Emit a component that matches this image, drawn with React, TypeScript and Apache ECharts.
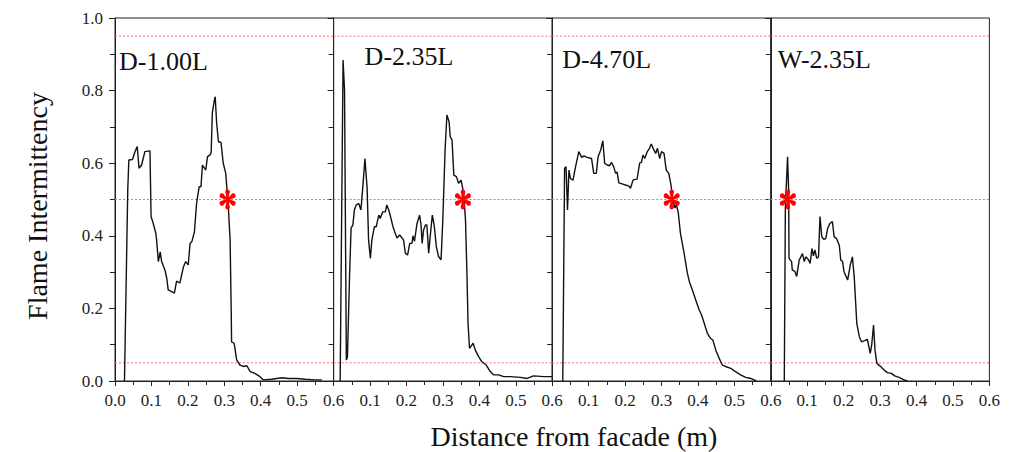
import React, { useEffect, useRef } from "react";
import * as echarts from "echarts";

const panelNames = ["D-1.00L", "D-2.35L", "D-4.70L", "W-2.35L"];

const d100: number[][] = [
  [0.026, 0], [0.035, 0.526], [0.038, 0.609], [0.048, 0.61], [0.055, 0.632], [0.061, 0.646], [0.066, 0.586],
  [0.073, 0.595], [0.082, 0.632], [0.096, 0.634], [0.099, 0.453], [0.105, 0.434], [0.112, 0.407], [0.114, 0.39],
  [0.119, 0.329], [0.124, 0.356], [0.128, 0.329], [0.137, 0.306], [0.142, 0.283], [0.146, 0.251], [0.156, 0.246],
  [0.163, 0.242], [0.169, 0.275], [0.178, 0.27], [0.188, 0.315], [0.194, 0.329], [0.201, 0.32], [0.206, 0.379],
  [0.211, 0.384], [0.218, 0.411], [0.224, 0.49], [0.231, 0.535], [0.236, 0.535], [0.24, 0.595], [0.249, 0.581],
  [0.254, 0.618], [0.261, 0.623], [0.264, 0.63], [0.267, 0.737], [0.272, 0.77], [0.275, 0.783], [0.279, 0.71],
  [0.284, 0.659], [0.291, 0.657], [0.297, 0.6], [0.304, 0.572], [0.311, 0.48], [0.316, 0.388], [0.319, 0.19],
  [0.32, 0.108], [0.327, 0.104], [0.334, 0.058], [0.343, 0.044], [0.352, 0.04], [0.362, 0.042], [0.371, 0.026],
  [0.384, 0.021], [0.398, 0.012], [0.407, 0.003], [0.43, 0.005], [0.458, 0.009], [0.476, 0.007], [0.499, 0.007],
  [0.522, 0.005], [0.549, 0.003], [0.568, 0.003],
];

const d235: number[][] = [
  [0.018, 0], [0.026, 0.884], [0.03, 0.8], [0.035, 0.058], [0.038, 0.066], [0.044, 0.297], [0.048, 0.421],
  [0.053, 0.43], [0.057, 0.471], [0.062, 0.485], [0.069, 0.489], [0.075, 0.471], [0.081, 0.545], [0.086, 0.613],
  [0.092, 0.531], [0.096, 0.388], [0.101, 0.338], [0.105, 0.388], [0.112, 0.425], [0.117, 0.425], [0.124, 0.457],
  [0.128, 0.448], [0.135, 0.466], [0.142, 0.466], [0.146, 0.485], [0.152, 0.469], [0.157, 0.45], [0.163, 0.425],
  [0.169, 0.407], [0.174, 0.394], [0.181, 0.402], [0.188, 0.394], [0.192, 0.388], [0.197, 0.352], [0.203, 0.347],
  [0.209, 0.379], [0.215, 0.379], [0.218, 0.4], [0.222, 0.385], [0.229, 0.434], [0.236, 0.457], [0.24, 0.43],
  [0.243, 0.379], [0.247, 0.416], [0.252, 0.43], [0.256, 0.43], [0.261, 0.352], [0.265, 0.397], [0.271, 0.457],
  [0.276, 0.43], [0.282, 0.37], [0.288, 0.343], [0.295, 0.334], [0.3, 0.45], [0.306, 0.636], [0.311, 0.733],
  [0.317, 0.714], [0.32, 0.673], [0.325, 0.664], [0.33, 0.567], [0.337, 0.563], [0.343, 0.545], [0.35, 0.553],
  [0.352, 0.543], [0.357, 0.517], [0.362, 0.444], [0.366, 0.297], [0.369, 0.159], [0.373, 0.09], [0.383, 0.104],
  [0.389, 0.085], [0.398, 0.067], [0.407, 0.053], [0.419, 0.044], [0.43, 0.026], [0.439, 0.017], [0.453, 0.017],
  [0.467, 0.012], [0.485, 0.012], [0.513, 0.01], [0.531, 0.007], [0.549, 0.014], [0.577, 0.012], [0.6, 0.012],
];

const d470: number[][] = [
  [0.029, 0], [0.034, 0.586], [0.038, 0.59], [0.042, 0.471], [0.046, 0.581], [0.05, 0.558], [0.057, 0.553],
  [0.064, 0.59], [0.073, 0.632], [0.081, 0.616], [0.087, 0.62], [0.096, 0.616], [0.108, 0.613], [0.114, 0.572],
  [0.121, 0.572], [0.126, 0.618], [0.133, 0.636], [0.139, 0.662], [0.144, 0.6], [0.151, 0.595], [0.157, 0.593],
  [0.163, 0.602], [0.169, 0.59], [0.174, 0.572], [0.178, 0.576], [0.183, 0.546], [0.192, 0.543], [0.201, 0.54],
  [0.211, 0.537], [0.215, 0.531], [0.222, 0.554], [0.233, 0.556], [0.24, 0.6], [0.245, 0.602], [0.249, 0.622],
  [0.254, 0.613], [0.261, 0.632], [0.267, 0.641], [0.272, 0.653], [0.277, 0.641], [0.284, 0.627], [0.289, 0.641],
  [0.295, 0.613], [0.3, 0.632], [0.307, 0.627], [0.313, 0.581], [0.32, 0.572], [0.326, 0.54], [0.331, 0.5],
  [0.337, 0.477], [0.341, 0.486], [0.346, 0.464], [0.352, 0.407], [0.362, 0.352], [0.371, 0.297], [0.377, 0.272],
  [0.384, 0.253], [0.394, 0.223], [0.403, 0.197], [0.41, 0.182], [0.416, 0.163], [0.426, 0.131], [0.435, 0.117],
  [0.441, 0.113], [0.449, 0.085], [0.458, 0.063], [0.467, 0.044], [0.476, 0.04], [0.49, 0.035], [0.503, 0.026],
  [0.517, 0.017], [0.531, 0.01], [0.545, 0.007], [0.554, 0.003], [0.56, 0],
];

const w235: number[][] = [
  [0.037, 0], [0.04, 0.48], [0.046, 0.618], [0.049, 0.526], [0.05, 0.338], [0.057, 0.329], [0.059, 0.306],
  [0.066, 0.302], [0.071, 0.288], [0.078, 0.333], [0.087, 0.351], [0.092, 0.329], [0.096, 0.342], [0.103, 0.335],
  [0.108, 0.324], [0.113, 0.365], [0.117, 0.345], [0.121, 0.361], [0.126, 0.338], [0.131, 0.342], [0.135, 0.453],
  [0.14, 0.397], [0.146, 0.39], [0.151, 0.393], [0.156, 0.42], [0.162, 0.434], [0.169, 0.439], [0.174, 0.397],
  [0.18, 0.393], [0.188, 0.374], [0.192, 0.333], [0.197, 0.329], [0.201, 0.301], [0.211, 0.278], [0.218, 0.319],
  [0.224, 0.342], [0.229, 0.287], [0.236, 0.159], [0.243, 0.122], [0.249, 0.108], [0.258, 0.111], [0.265, 0.115],
  [0.273, 0.076], [0.277, 0.1], [0.282, 0.154], [0.286, 0.085], [0.291, 0.049], [0.3, 0.041], [0.311, 0.03],
  [0.32, 0.023], [0.331, 0.021], [0.34, 0.014], [0.352, 0.01], [0.366, 0.003], [0.375, 0],
];

const panelData = [d100, d235, d470, w235];
const asteriskX = [0.309, 0.355, 0.328, 0.047];
const asteriskY = [0.5, 0.5, 0.5, 0.5];
const refLevels = [0.95, 0.5, 0.05];

const xMin = 0, xMax = 0.6, xStep = 0.1;
const yMin = 0, yMax = 1.0, yStep = 0.2;

const yTitle = "Flame Intermittency";
const xTitle = "Distance from facade (m)";

function asteriskPath(): string {
  const L = 7.4, w0 = 0.7, w1 = 2.6;
  let d = "";
  [90, 30, -30, -90, 210, 150].forEach((deg) => {
    const a = (deg * Math.PI) / 180;
    const ux = Math.cos(a), uy = -Math.sin(a);
    const px = -uy, py = ux;
    const pts: number[][] = [[px * w0, py * w0]];
    const cx = ux * L, cy = uy * L;
    for (let k = 0; k <= 8; k++) {
      const t = (k / 8) * Math.PI;
      pts.push([
        cx + w1 * (Math.cos(t) * px + Math.sin(t) * ux),
        cy + w1 * (Math.cos(t) * py + Math.sin(t) * uy),
      ]);
    }
    pts.push([-px * w0, -py * w0]);
    d += "M" + pts.map((p) => p[0].toFixed(2) + "," + p[1].toFixed(2)).join("L") + "Z";
  });
  return d;
}

const FONT = "Liberation Serif";

export default function App() {
  const ref = useRef<HTMLDivElement>(null);
  useEffect(() => {
    if (!ref.current) return;
    const chart = echarts.init(ref.current, undefined, { renderer: "svg" });
    const pw = 218.6;
    const left0 = 115;
    const top = 18;
    const h = 363;
    const grids: any[] = [];
    const xAxes: any[] = [];
    const yAxes: any[] = [];
    const series: any[] = [];
    const graphics: any[] = [];
    const titleOffsets = [4, 31, 10, 7];
    const titleMid = [61.5, 56.5, 59.5, 59.5];
    const astPath = "path://" + asteriskPath();
    const tickText = { fontFamily: FONT, fontSize: 17, color: "#222" };
    panelNames.forEach((name, i) => {
      grids.push({
        left: left0 + i * pw,
        top,
        width: pw,
        height: h,
        show: true,
        borderColor: "#222",
        borderWidth: 1,
        backgroundColor: "transparent",
      });
      xAxes.push({
        type: "value",
        gridIndex: i,
        min: xMin,
        max: xMax,
        interval: xStep,
        axisLine: { show: true, lineStyle: { color: "#222", width: 1 } },
        axisTick: { show: true, inside: false, length: 5, lineStyle: { color: "#222" } },
        minorTick: { show: true, splitNumber: 2, length: 4, lineStyle: { color: "#222" } },
        splitLine: { show: false },
        axisLabel: {
          show: true,
          margin: 11,
          ...tickText,
          showMinLabel: true,
          showMaxLabel: true,
          formatter: (v: number) => (i > 0 && Math.abs(v) < 1e-9 ? "" : v.toFixed(1)),
        },
      });
      yAxes.push({
        type: "value",
        gridIndex: i,
        min: yMin,
        max: yMax,
        interval: yStep,
        axisLine: { show: true, lineStyle: { color: "#222", width: 1 } },
        axisTick: { show: true, inside: false, length: 6, lineStyle: { color: "#222" } },
        minorTick: { show: true, splitNumber: 2, length: 5, lineStyle: { color: "#222" } },
        splitLine: { show: false },
        axisLabel: {
          show: i === 0,
          margin: 12,
          ...tickText,
          formatter: (v: number) => v.toFixed(1),
        },
      });
      refLevels.forEach((lv) => {
        series.push({
          type: "line",
          xAxisIndex: i,
          yAxisIndex: i,
          data: [[xMin, lv], [xMax, lv]],
          symbol: "none",
          silent: true,
          lineStyle: { color: "#ff6a6a", type: [2, 2], width: 1 },
          z: 2,
        });
      });
      series.push({
        type: "line",
        xAxisIndex: i,
        yAxisIndex: i,
        data: panelData[i],
        symbol: "none",
        lineStyle: { color: "#111", width: 1.4 },
        z: 3,
      });
      series.push({
        type: "scatter",
        xAxisIndex: i,
        yAxisIndex: i,
        data: [[asteriskX[i], asteriskY[i]]],
        symbol: astPath,
        symbolSize: [16, 20],
        itemStyle: { color: "#ff0000", opacity: 1 },
        z: 5,
      });
      graphics.push({
        type: "text",
        x: left0 + i * pw + titleOffsets[i],
        y: titleMid[i],
        style: {
          text: name,
          font: `26px "${FONT}"`,
          fill: "#111",
          textAlign: "left",
          textVerticalAlign: "middle",
        },
      });
    });
    graphics.push({
      type: "text",
      x: 37.5,
      y: 206,
      rotation: Math.PI / 2,
      style: {
        text: yTitle,
        font: `28px "${FONT}"`,
        fill: "#111",
        textAlign: "center",
        textVerticalAlign: "middle",
      },
    });
    graphics.push({
      type: "text",
      x: 574,
      y: 436.5,
      style: {
        text: xTitle,
        font: `28px "${FONT}"`,
        fill: "#111",
        textAlign: "center",
        textVerticalAlign: "middle",
      },
    });
    chart.setOption({
      animation: false,
      backgroundColor: "#ffffff",
      textStyle: { fontFamily: FONT },
      grid: grids,
      xAxis: xAxes,
      yAxis: yAxes,
      series,
      graphic: graphics,
    });
    return () => chart.dispose();
  }, []);
  return (
    <div
      ref={ref}
      style={{ position: "absolute", left: 0, top: 0, width: 1021, height: 452 }}
    />
  );
}
